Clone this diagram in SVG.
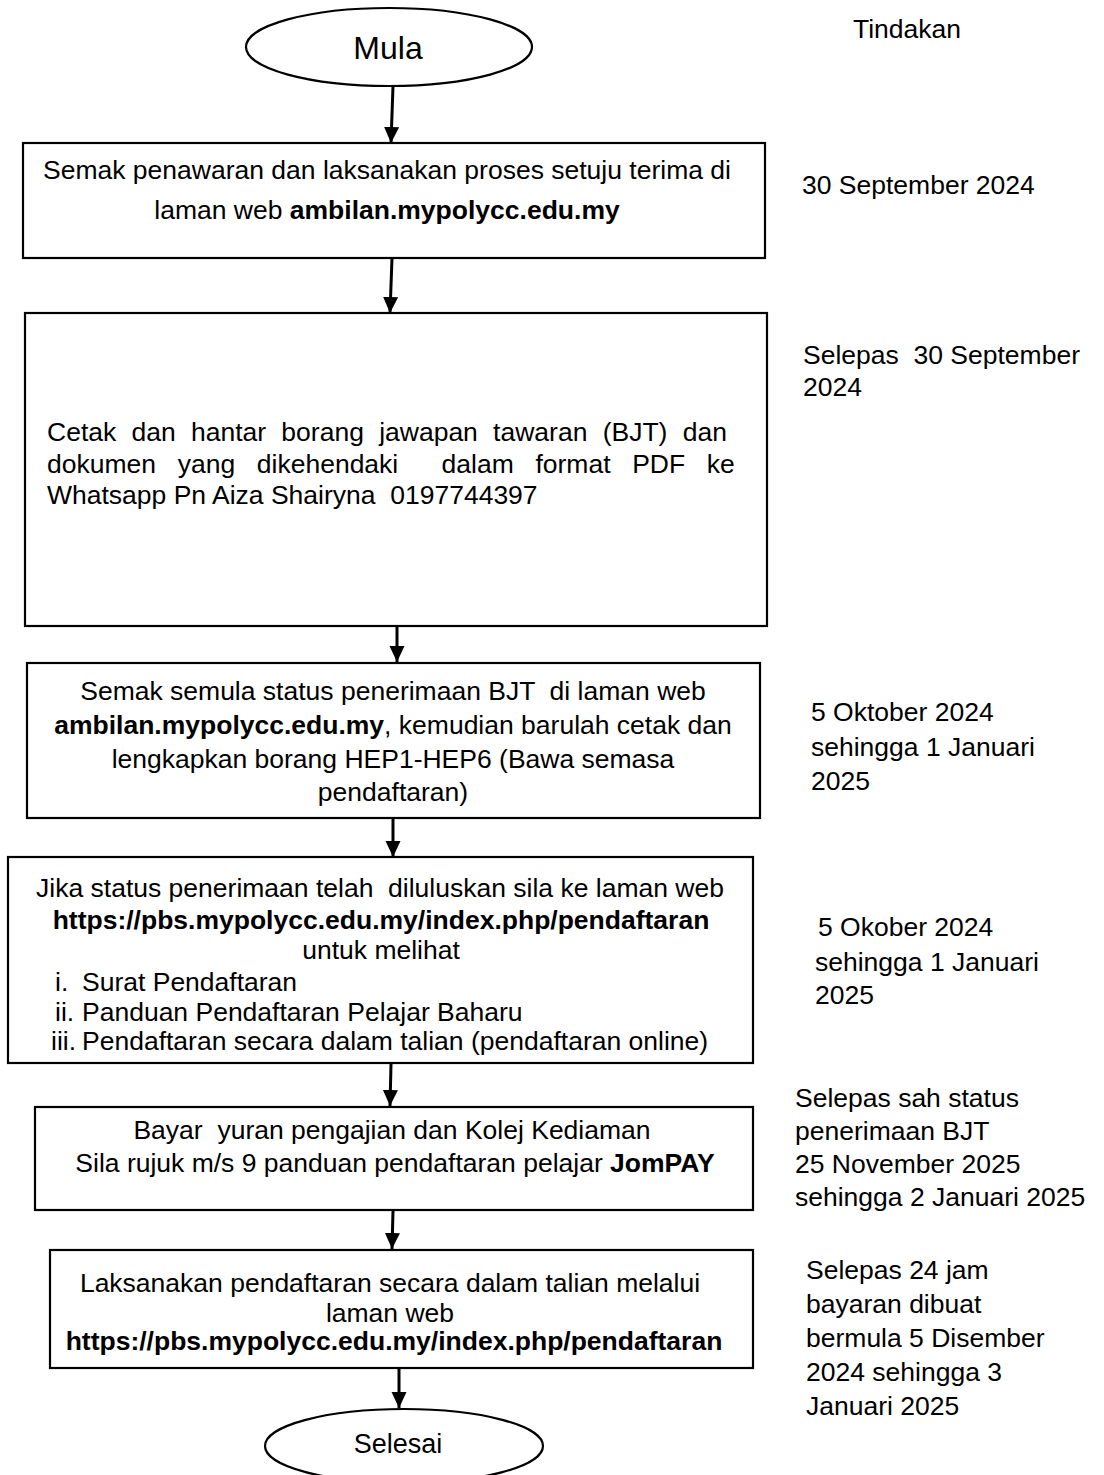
<svg xmlns="http://www.w3.org/2000/svg" width="1104" height="1475" viewBox="0 0 1104 1475">
<style>
  .bg { fill: #ffffff; }
  .shape { fill: #ffffff; stroke: #000000; stroke-width: 2.2; }
  .conn { stroke: #000000; stroke-width: 3; fill: none; }
  text { font-family: "Liberation Sans", Arial, sans-serif; font-size: 26.5px; fill: #000000; }
  .c { text-anchor: middle; }
  .b { font-weight: bold; }
  .term { font-size: 32px; }
  .term2 { font-size: 27px; }
</style>
<defs>
  <marker id="arrow" markerUnits="userSpaceOnUse" markerWidth="16" markerHeight="16" refX="16" refY="7.5" orient="auto">
    <path d="M0,0 L16,7.5 L0,15 Z" fill="#000000"/>
  </marker>
</defs>
<rect class="bg" x="0" y="0" width="1104" height="1475"/>

<g id="connectors">
  <line class="conn" x1="393" y1="86" x2="391" y2="143" marker-end="url(#arrow)"/>
  <line class="conn" x1="392" y1="258" x2="390" y2="313" marker-end="url(#arrow)"/>
  <line class="conn" x1="397" y1="627" x2="397" y2="662" marker-end="url(#arrow)"/>
  <line class="conn" x1="393" y1="819" x2="393" y2="857" marker-end="url(#arrow)"/>
  <line class="conn" x1="391" y1="1064" x2="390" y2="1106" marker-end="url(#arrow)"/>
  <line class="conn" x1="393" y1="1211" x2="392" y2="1249" marker-end="url(#arrow)"/>
  <line class="conn" x1="399" y1="1369" x2="399" y2="1408" marker-end="url(#arrow)"/>
</g>

<g id="mula">
  <ellipse class="shape" cx="389" cy="47" rx="143" ry="39"/>
  <text class="c term" x="388" y="59">Mula</text>
</g>

<g id="tindakan">
  <text x="853" y="38">Tindakan</text>
</g>

<g id="step1">
  <rect class="shape" x="23" y="143" width="742" height="115"/>
  <text class="c" x="387" y="179">Semak penawaran dan laksanakan proses setuju terima di</text>
  <text class="c" x="387" y="219">laman web <tspan class="b">ambilan.mypolycc.edu.my</tspan></text>
</g>
<g id="date1">
  <text x="802" y="194">30 September 2024</text>
</g>

<g id="step2">
  <rect class="shape" x="25" y="313" width="742" height="313"/>
  <text x="47" y="441" word-spacing="7.9">Cetak dan hantar borang jawapan tawaran (BJT) dan</text>
  <text x="47" y="473" word-spacing="14.3" xml:space="preserve">dokumen yang dikehendaki  dalam format PDF ke</text>
  <text x="47" y="504" xml:space="preserve">Whatsapp Pn Aiza Shairyna  0197744397</text>
</g>
<g id="date2">
  <text x="803" y="364" xml:space="preserve">Selepas  30 September</text>
  <text x="803" y="396">2024</text>
</g>

<g id="step3">
  <rect class="shape" x="27" y="663" width="733" height="155"/>
  <text class="c" x="393" y="700" xml:space="preserve">Semak semula status penerimaan BJT  di laman web</text>
  <text class="c" x="393" y="734"><tspan class="b">ambilan.mypolycc.edu.my</tspan>, kemudian barulah cetak dan</text>
  <text class="c" x="393" y="768">lengkapkan borang HEP1-HEP6 (Bawa semasa</text>
  <text class="c" x="393" y="801">pendaftaran)</text>
</g>
<g id="date3">
  <text x="811" y="721">5 Oktober 2024</text>
  <text x="811" y="756">sehingga 1 Januari</text>
  <text x="811" y="790">2025</text>
</g>

<g id="step4">
  <rect class="shape" x="8" y="857" width="745" height="206"/>
  <text class="c" x="380" y="897" xml:space="preserve">Jika status penerimaan telah  diluluskan sila ke laman web</text>
  <text class="c b" x="381" y="929">https://pbs.mypolycc.edu.my/index.php/pendaftaran</text>
  <text class="c" x="381" y="959">untuk melihat</text>
  <text x="55" y="991">i.</text>
  <text x="82" y="991">Surat Pendaftaran</text>
  <text x="55" y="1021">ii.</text>
  <text x="82" y="1021">Panduan Pendaftaran Pelajar Baharu</text>
  <text x="51" y="1050">iii.</text>
  <text x="82" y="1050">Pendaftaran secara dalam talian (pendaftaran online)</text>
</g>
<g id="date4">
  <text x="818" y="936">5 Okober 2024</text>
  <text x="815" y="971">sehingga 1 Januari</text>
  <text x="815" y="1004">2025</text>
</g>

<g id="step5">
  <rect class="shape" x="35" y="1107" width="718" height="103"/>
  <text class="c" x="392" y="1139" xml:space="preserve">Bayar  yuran pengajian dan Kolej Kediaman</text>
  <text class="c" x="395" y="1172">Sila rujuk m/s 9 panduan pendaftaran pelajar <tspan class="b">JomPAY</tspan></text>
</g>
<g id="date5">
  <text x="795" y="1107">Selepas sah status</text>
  <text x="795" y="1140">penerimaan BJT</text>
  <text x="795" y="1173">25 November 2025</text>
  <text x="795" y="1206">sehingga 2 Januari 2025</text>
</g>

<g id="step6">
  <rect class="shape" x="50" y="1250" width="703" height="118"/>
  <text class="c" x="390" y="1292">Laksanakan pendaftaran secara dalam talian melalui</text>
  <text class="c" x="390" y="1322">laman web</text>
  <text class="c b" x="394" y="1350">https://pbs.mypolycc.edu.my/index.php/pendaftaran</text>
</g>
<g id="date6">
  <text x="806" y="1279">Selepas 24 jam</text>
  <text x="806" y="1313">bayaran dibuat</text>
  <text x="806" y="1347">bermula 5 Disember</text>
  <text x="806" y="1381">2024 sehingga 3</text>
  <text x="806" y="1415">Januari 2025</text>
</g>

<g id="selesai">
  <ellipse class="shape" cx="404" cy="1446" rx="139" ry="37"/>
  <text class="c term2" x="398" y="1453">Selesai</text>
</g>
</svg>
